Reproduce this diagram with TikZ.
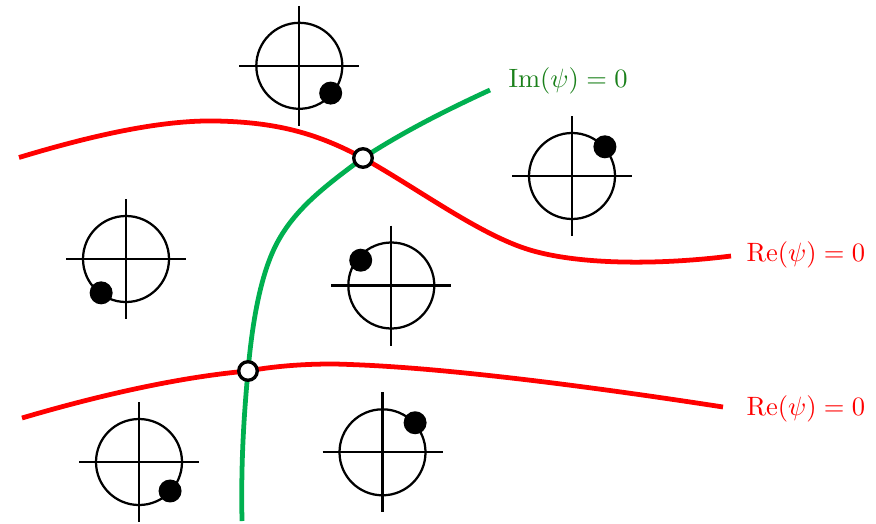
\documentclass[tikz,border=0pt]{standalone}
\definecolor{curvegreen}{RGB}{0,176,80}
\definecolor{labelgreen}{RGB}{26,128,26}
\tikzset{
  pxscale/.style={x=0.3774pt,y=-0.3774pt},
  recurve/.style={draw=red,line width=1.8pt},
  imcurve/.style={draw=curvegreen,line width=1.8pt},
  junction/.style={circle,draw=black,fill=white,line width=1.25pt,inner sep=0pt,minimum size=7pt},
  axisline/.style={draw=black,line width=0.85pt},
  phasor/.pic={
    \draw[axisline] (0,0) circle[radius=43];
    \draw[axisline] (-60,0) -- (60,0);
    \draw[axisline] (0,-60) -- (0,60);
    \fill[black] (#1) circle[radius=11.5];
  }
}
\begin{document}
\begin{tikzpicture}[pxscale]
\useasboundingbox (0,0) rectangle (876,523);
\coordinate (r1a) at (19,157.5);
\coordinate (r1b) at (731,256);
\coordinate (r2a) at (22,418);
\coordinate (r2b) at (723,407);
\coordinate (ga) at (490,90);
\coordinate (gb) at (242,521);
\coordinate (j1) at (363,158);
\coordinate (j2) at (248,371);
% red curves
\draw[recurve] (r1a) .. controls (90,136) and (160,120) .. (215,121)
  .. controls (280,122) and (320,135) .. (j1)
  .. controls (420,190) and (480,235) .. (530,250)
  .. controls (580,265) and (660,265) .. (r1b);
\draw[recurve] (r2a) .. controls (100,395) and (180,377) .. (j2)
  .. controls (280,365) and (320,363) .. (350,364.5)
  .. controls (450,368) and (600,388) .. (r2b);
% green curve
\draw[imcurve] (ga) .. controls (440,113) and (400,134) .. (j1)
  .. controls (325,186) and (295,209) .. (277,243)
  .. controls (260,275) and (252,325) .. (j2)
  .. controls (243,425) and (241,470) .. (gb);
\node[junction] (jA) at (j1) {};
\node[junction] (jB) at (j2) {};
% phasors
\pic at (299.3,65.8) {phasor=41:41.6};
\pic at (572,176) {phasor=-41.6:44};
\pic at (126,259) {phasor=126.3:42};
\pic at (391.3,285.5) {phasor=-140.4:39.7};
\pic at (139,462) {phasor=43:42.5};
\pic at (382.5,452.3) {phasor=-42.2:44};
% labels
\node[text=labelgreen,anchor=west,inner sep=0pt] (lim) at (508,81) {$\mathrm{Im}(\psi)=0$};
\node[text=red,anchor=west,inner sep=0pt] (lre1) at (746,255) {$\mathrm{Re}(\psi)=0$};
\node[text=red,anchor=west,inner sep=0pt] (lre2) at (746,409) {$\mathrm{Re}(\psi)=0$};
\end{tikzpicture}
\end{document}
